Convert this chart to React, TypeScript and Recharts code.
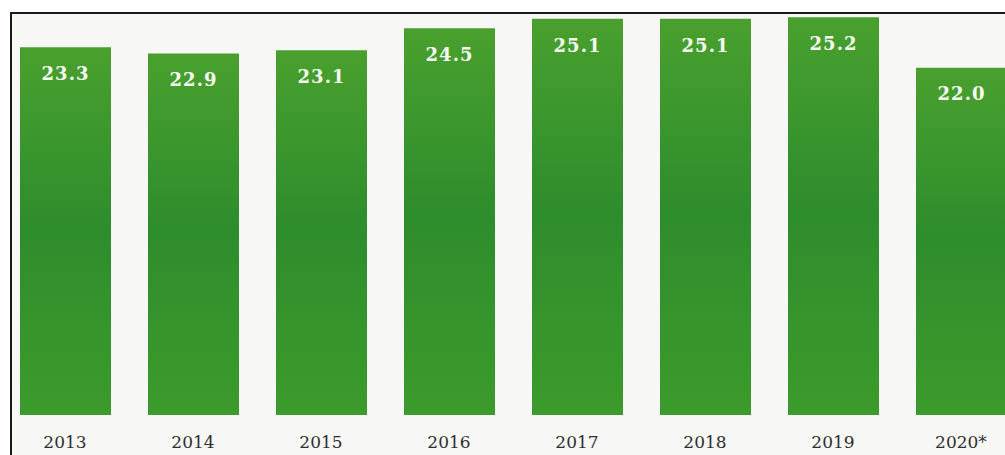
import React from 'react';
import { BarChart, Bar, XAxis, YAxis, LabelList } from 'recharts';

const years = ['2013', '2014', '2015', '2016', '2017', '2018', '2019', '2020*'];
const values = [23.3, 22.9, 23.1, 24.5, 25.1, 25.1, 25.2, 22.0];

const data = years.map((year, i) => ({ year, value: values[i] }));

const serif = '"DejaVu Serif", "Liberation Serif", serif';

const App: React.FC = () => {
  return (
    <div
      style={{
        position: 'absolute',
        left: 0,
        top: 0,
        width: 1005,
        height: 455,
        overflow: 'hidden',
        background: '#ffffff',
      }}
    >
      {/* scanned frame: only top and left edges are visible */}
      <div
        style={{
          position: 'absolute',
          left: 10,
          top: 12,
          width: 1020,
          height: 460,
          borderLeft: '2px solid #1a1a1a',
          borderTop: '2px solid #1a1a1a',
          background: '#f7f8f6',
        }}
      />
      <div style={{ position: 'absolute', left: 0, top: 0 }}>
        <BarChart
          width={1025}
          height={455}
          data={data}
          margin={{ top: 14, right: 0, left: 1, bottom: 10 }}
          barSize={91}
        >
          <defs>
            <linearGradient id="barGreen" x1="0" y1="0" x2="0" y2="1">
              <stop offset="0%" stopColor="#49a02e" />
              <stop offset="48%" stopColor="#2e8d2c" />
              <stop offset="100%" stopColor="#3c9b2b" />
            </linearGradient>
          </defs>
          <XAxis
            dataKey="year"
            axisLine={false}
            tickLine={false}
            tickSize={0}
            tickMargin={21}
            height={30}
            interval={0}
            tick={{ fill: '#2e2e2e', fontSize: 17, fontFamily: serif }}
          />
          <YAxis hide domain={[0, 25.4]} />
          <Bar dataKey="value" fill="url(#barGreen)" isAnimationActive={false}>
            <LabelList
              dataKey="value"
              position="insideTop"
              offset={20}
              formatter={(v: any) => Number(v).toFixed(1)}
              style={{
                fill: '#f6f9f0',
                fontSize: 18,
                fontWeight: 'bold',
                fontFamily: serif,
                letterSpacing: 1,
              }}
            />
          </Bar>
        </BarChart>
      </div>
    </div>
  );
};

export default App;
